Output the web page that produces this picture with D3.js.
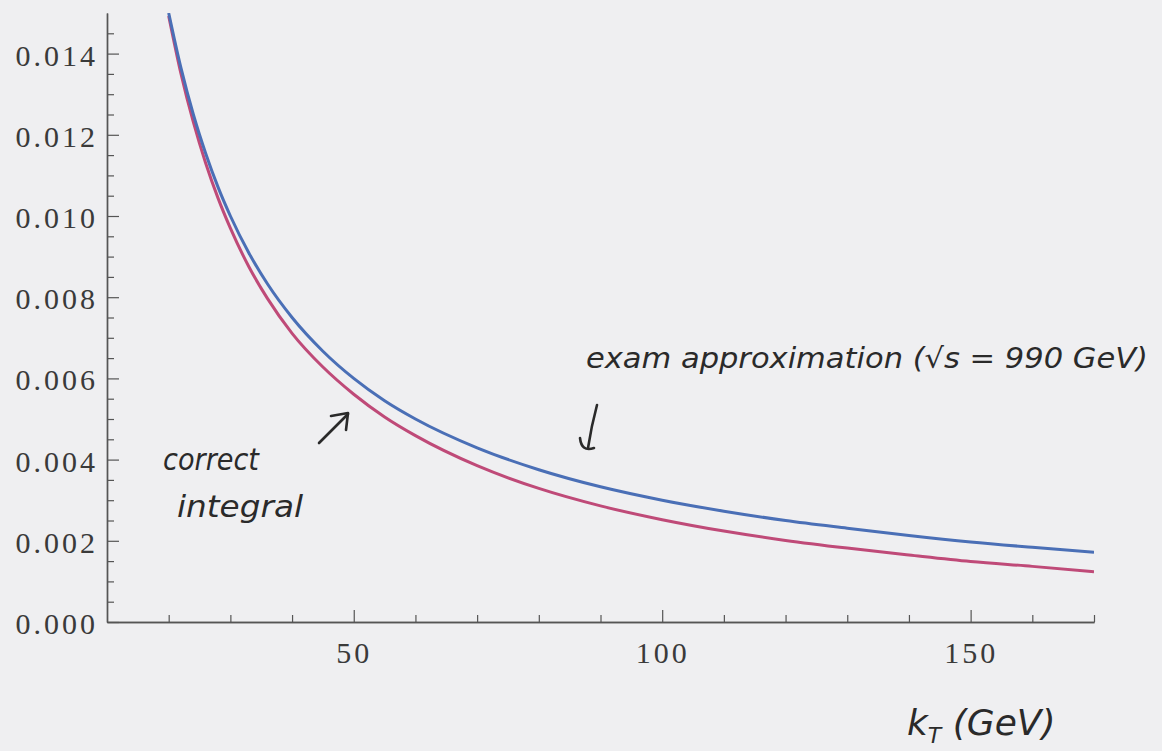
<!DOCTYPE html>
<html>
<head>
<meta charset="utf-8">
<script src="https://cdn.jsdelivr.net/npm/d3@7"></script>
<style>
  html, body { margin: 0; padding: 0; background: #efeff1; }
  svg { display: block; }
  .tick text { font-family: "Liberation Serif", "DejaVu Serif", serif; fill: #3a3a3a; }
  .hand { font-family: "DejaVu Sans", sans-serif; font-style: italic; fill: #2a2a2a; }
</style>
</head>
<body>
<svg id="chart" width="1162" height="751"></svg>
<script>
// kT values (GeV)
var kt = [20, 22, 24, 26, 28, 30, 33, 36, 40, 45, 50, 55, 60, 70, 80, 90, 100, 110, 120, 130, 140, 150, 160, 170];
// blue curve: "exam approximation"
var approx = [0.0150, 0.01364, 0.0125, 0.01154, 0.01071, 0.0100, 0.00909, 0.00833, 0.0075, 0.00667, 0.0060, 0.00545,
  0.0050, 0.00429, 0.00375, 0.00333, 0.0030, 0.00273, 0.0025, 0.00231, 0.00213, 0.00197, 0.00184, 0.00172];
// red curve: "correct integral"
var exact = [0.01493, 0.0135, 0.01231, 0.0113, 0.01044, 0.0097, 0.00875, 0.00797, 0.00711, 0.00628, 0.00561, 0.00505,
  0.00459, 0.00385, 0.00329, 0.00286, 0.00252, 0.00224, 0.00201, 0.00182, 0.00165, 0.00149, 0.00137, 0.00124];

var xMajor = [50, 100, 150];
var xMinor = [20, 30, 40, 60, 70, 80, 90, 110, 120, 130, 140, 160, 170];
var yMajor = [0, 0.002, 0.004, 0.006, 0.008, 0.010, 0.012, 0.014];
var yMinor = [0.0005, 0.001, 0.0015, 0.0025, 0.003, 0.0035, 0.0045, 0.005, 0.0055, 0.0065, 0.007, 0.0075,
  0.0085, 0.009, 0.0095, 0.0105, 0.011, 0.0115, 0.0125, 0.013, 0.0135, 0.0145];

var margins = {left: 107, top: 13, right: 68, bottom: 129};
var width = 1162, height = 751;
var innerW = width - margins.left - margins.right;
var innerH = height - margins.top - margins.bottom;

var svg = d3.select('#chart');

var x = d3.scaleLinear().domain([10, 170]).range([0, innerW]);
var y = d3.scaleLinear().domain([0, 0.015]).range([innerH, 0]);

var g = svg.append('g')
  .attr('transform', 'translate(' + margins.left + ',' + margins.top + ')');

g.append('defs').append('clipPath').attr('id', 'plot-clip')
  .append('rect').attr('x', 0).attr('y', 0).attr('width', innerW).attr('height', innerH);

// axes: ticks point inside like the original
function styleAxis(sel) {
  sel.select('.domain').attr('stroke', '#555').attr('stroke-width', 1.4);
  sel.selectAll('.tick line').attr('stroke', '#555').attr('stroke-width', 1.2);
}

var xMinorAxis = g.append('g')
  .attr('transform', 'translate(0,' + innerH + ')')
  .call(d3.axisBottom(x).tickValues(xMinor).tickSize(-7).tickSizeOuter(0).tickFormat(''));
styleAxis(xMinorAxis);

var xAxis = g.append('g')
  .attr('transform', 'translate(0,' + innerH + ')')
  .call(d3.axisBottom(x).tickValues(xMajor).tickSize(-12).tickSizeOuter(0).tickPadding(20).tickFormat(d3.format('d')));
styleAxis(xAxis);
xAxis.selectAll('.tick text')
  .style('font-size', '30px')
  .style('letter-spacing', '3px');

var yMinorAxis = g.append('g')
  .call(d3.axisLeft(y).tickValues(yMinor).tickSize(-7).tickSizeOuter(0).tickFormat(''));
styleAxis(yMinorAxis);

var yAxis = g.append('g')
  .call(d3.axisLeft(y).tickValues(yMajor).tickSize(-12).tickSizeOuter(0).tickPadding(9).tickFormat(d3.format('.3f')));
styleAxis(yAxis);
yAxis.selectAll('.tick text')
  .attr('dy', '0.38em')
  .style('font-size', '30px')
  .style('letter-spacing', '3px');

// curves
var line = function(vals) {
  return d3.line()
    .x(function(d, i) { return x(kt[i]); })
    .y(function(d) { return y(d); })
    .curve(d3.curveMonotoneX)(vals);
};

var curves = g.append('g').attr('clip-path', 'url(#plot-clip)');
curves.append('path')
  .attr('d', line(exact))
  .attr('fill', 'none')
  .attr('stroke', '#bf4a78')
  .attr('stroke-width', 3);
curves.append('path')
  .attr('d', line(approx))
  .attr('fill', 'none')
  .attr('stroke', '#4a6fb6')
  .attr('stroke-width', 3);

// handwritten notes
var notes = svg.append('g').attr('class', 'hand');

notes.append('text')
  .attr('x', 586).attr('y', 368)
  .attr('textLength', 562).attr('lengthAdjust', 'spacingAndGlyphs')
  .style('font-size', '28px')
  .text('exam approximation (√s = 990 GeV)');

notes.append('text')
  .attr('x', 163).attr('y', 470)
  .attr('textLength', 96).attr('lengthAdjust', 'spacingAndGlyphs')
  .style('font-size', '30px')
  .text('correct');

notes.append('text')
  .attr('x', 177).attr('y', 517)
  .attr('textLength', 126).attr('lengthAdjust', 'spacingAndGlyphs')
  .style('font-size', '30px')
  .text('integral');

var kLabel = notes.append('text')
  .attr('x', 907).attr('y', 735)
  .style('font-size', '36px');
kLabel.append('tspan').text('k');
kLabel.append('tspan').attr('dy', 8).style('font-size', '22px').text('T');
kLabel.append('tspan').attr('dy', -8).text(' (GeV)');

// pen arrows
var pen = svg.append('g')
  .attr('fill', 'none')
  .attr('stroke', '#2a2a2a')
  .attr('stroke-width', 2.6)
  .attr('stroke-linecap', 'round')
  .attr('stroke-linejoin', 'round');

pen.append('path').attr('d', 'M319,443 L348,414');
pen.append('path').attr('d', 'M331,416 L348,413 L346,430');

pen.append('path').attr('d', 'M597,405 C593,420 590,435 588,448');
pen.append('path').attr('d', 'M580,438 C581,447 585,451 594,448');
</script>
</body>
</html>
